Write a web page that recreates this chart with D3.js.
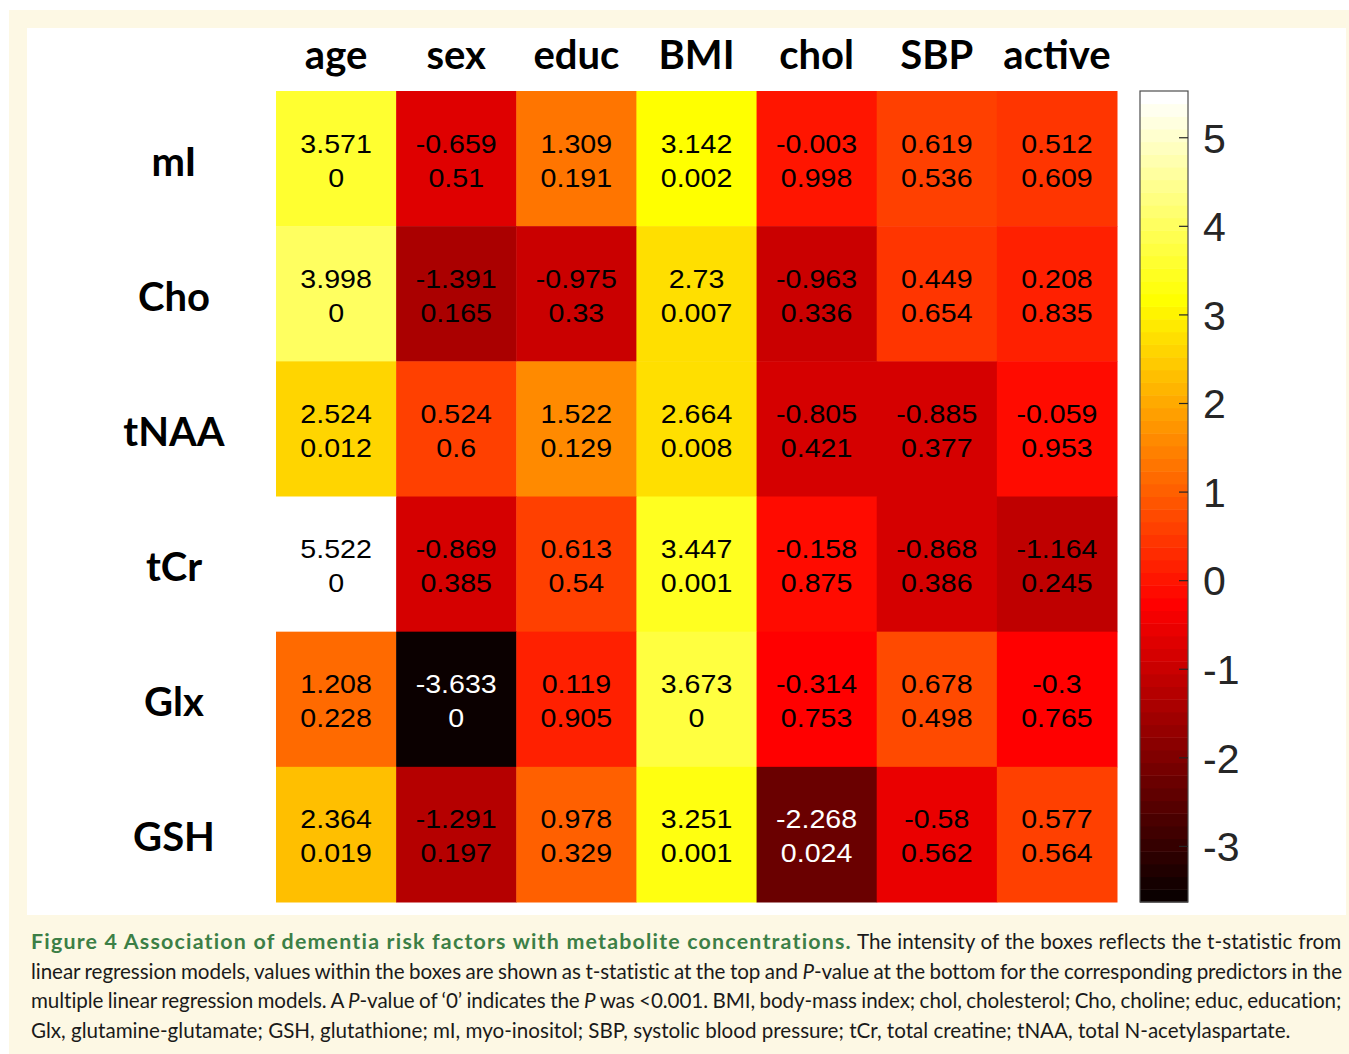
<!DOCTYPE html>
<html>
<head>
    <meta charset="utf-8">
    <title>Figure 4 heatmap</title>
    <script src="https://d3js.org/d3.v7.min.js"></script>
    <style>
        body {
            margin: 0;
            background: white;
        }
        svg {
            display: block;
        }
        .collabel, .rowlabel {
            font-family: Lato, 'Open Sans', sans-serif;
            font-weight: 700;
            font-size: 40px;
        }
        .cell-text {
            font-family: 'Liberation Sans', Arial, sans-serif;
            font-size: 26px;
        }
        .cbar text {
            font-family: 'Liberation Sans', Arial, sans-serif;
            font-size: 41px;
            fill: #262626;
        }
        .caption {
            font-family: Lato, sans-serif;
            font-size: 20.6px;
            fill: #1a1a1a;
        }
    </style>
</head>
<body>
<svg width="1349" height="1054"></svg>

<script>
    // predictors (columns) and metabolites (rows)
    let predictors = ["age", "sex", "educ", "BMI", "chol", "SBP", "active"]
    let metabolites = ["mI", "Cho", "tNAA", "tCr", "Glx", "GSH"]

    // t-statistic, one array per metabolite
    let tMI   = [3.571, -0.659, 1.309, 3.142, -0.003, 0.619, 0.512]
    let tCho  = [3.998, -1.391, -0.975, 2.73, -0.963, 0.449, 0.208]
    let tNAA  = [2.524, 0.524, 1.522, 2.664, -0.805, -0.885, -0.059]
    let tCr   = [5.522, -0.869, 0.613, 3.447, -0.158, -0.868, -1.164]
    let tGlx  = [1.208, -3.633, 0.119, 3.673, -0.314, 0.678, -0.3]
    let tGSH  = [2.364, -1.291, 0.978, 3.251, -2.268, -0.58, 0.577]

    // P-values, same layout
    let pMI   = [0, 0.51, 0.191, 0.002, 0.998, 0.536, 0.609]
    let pCho  = [0, 0.165, 0.33, 0.007, 0.336, 0.654, 0.835]
    let pNAA  = [0.012, 0.6, 0.129, 0.008, 0.421, 0.377, 0.953]
    let pCr   = [0, 0.385, 0.54, 0.001, 0.875, 0.386, 0.245]
    let pGlx  = [0.228, 0, 0.905, 0, 0.753, 0.498, 0.765]
    let pGSH  = [0.019, 0.197, 0.329, 0.001, 0.024, 0.562, 0.564]

    let cbarTicks = [-3, -2, -1, 0, 1, 2, 3, 4, 5]

    let tRows = [tMI, tCho, tNAA, tCr, tGlx, tGSH]
    let pRows = [pMI, pCho, pNAA, pCr, pGlx, pGSH]

    // matlab "hot" colormap, 64 entries
    function hot(m) {
        let n = Math.floor(3 / 8 * m)
        let out = []
        for (let i = 1; i <= m; i++) {
            let r = i <= n ? i / n : 1
            let g = i <= n ? 0 : (i <= 2 * n ? (i - n) / n : 1)
            let b = i <= 2 * n ? 0 : (i - 2 * n) / (m - 2 * n)
            out.push(d3.rgb(r * 255, g * 255, b * 255))
        }
        return out
    }
    let hotColors = hot(64)

    let cells = []
    metabolites.forEach((met, i) => {
        predictors.forEach((pred, j) => {
            cells.push({ met: met, pred: pred, t: tRows[i][j], p: pRows[i][j] })
        })
    })

    let tMin = d3.min(cells, d => d.t)
    let tMax = d3.max(cells, d => d.t)

    let svg = d3.select("svg")

    // page background / panel
    svg.append("rect").attr("x", 9).attr("y", 10).attr("width", 1340).attr("height", 1044)
        .attr("fill", "#fdf8e4")
    svg.append("rect").attr("x", 27).attr("y", 28).attr("width", 1319).attr("height", 887)
        .attr("fill", "white")

    let x = d3.scaleBand().domain(predictors).range([276, 1117])
    let y = d3.scaleBand().domain(metabolites).range([91, 902])
    let color = d3.scaleQuantize().domain([tMin, tMax]).range(hotColors)

    let cellG = svg.append("g")
        .selectAll("g")
        .data(cells)
        .join("g")
        .attr("transform", d => `translate(${x(d.pred)},${y(d.met)})`)

    cellG.append("rect")
        .attr("width", x.bandwidth() + 0.5)
        .attr("height", y.bandwidth() + 0.5)
        .attr("fill", d => color(d.t))

    let textFill = d => color(d.t).r < 128 ? "white" : "black"

    cellG.append("text")
        .attr("class", "cell-text")
        .attr("text-anchor", "middle")
        .attr("transform", `translate(${x.bandwidth() / 2},${y.bandwidth() / 2 - 6}) scale(1.1,1)`)
        .attr("fill", textFill)
        .text(d => String(d.t))

    cellG.append("text")
        .attr("class", "cell-text")
        .attr("text-anchor", "middle")
        .attr("transform", `translate(${x.bandwidth() / 2},${y.bandwidth() / 2 + 28}) scale(1.1,1)`)
        .attr("fill", textFill)
        .text(d => String(d.p))

    // column + row labels
    svg.append("g")
        .selectAll("text")
        .data(predictors)
        .join("text")
        .attr("class", "collabel")
        .attr("text-anchor", "middle")
        .attr("x", d => x(d) + x.bandwidth() / 2)
        .attr("y", 69)
        .text(d => d)

    svg.append("g")
        .selectAll("text")
        .data(metabolites)
        .join("text")
        .attr("class", "rowlabel")
        .attr("text-anchor", "middle")
        .attr("x", 174)
        .attr("y", d => y(d) + y.bandwidth() / 2 + 17)
        .text(d => d)

    // colorbar
    let cbX = 1140, cbW = 48
    let cbY = d3.scaleLinear().domain([tMin, tMax]).range([902, 91])
    let bandH = (cbY(tMin) - cbY(tMax)) / hotColors.length

    let cbar = svg.append("g").attr("class", "cbar")
    cbar.selectAll("rect.band")
        .data(hotColors)
        .join("rect")
        .attr("class", "band")
        .attr("x", cbX)
        .attr("width", cbW)
        .attr("y", (c, i) => cbY(tMin) - (i + 1) * bandH)
        .attr("height", bandH + 0.5)
        .attr("fill", c => c)

    cbar.append("rect")
        .attr("x", cbX).attr("y", cbY(tMax))
        .attr("width", cbW).attr("height", cbY(tMin) - cbY(tMax))
        .attr("fill", "none")
        .attr("stroke", "#4d4d4d")
        .attr("stroke-width", 1.2)

    let cbAxis = d3.axisRight(cbY)
        .tickValues(cbarTicks)
        .tickSize(-9)
        .tickPadding(15)
        .tickFormat(d => String(d))

    cbar.append("g")
        .attr("transform", `translate(${cbX + cbW},0)`)
        .call(cbAxis)
        .call(g => g.select(".domain").remove())
        .call(g => g.selectAll(".tick line").attr("stroke", "#262626").attr("stroke-width", 1.2))
        .call(g => g.selectAll(".tick text").attr("font-size", null).attr("font-family", null)
            .attr("dy", "0.36em").attr("fill", "#262626"))

    // caption, justified line by line
    let green = "#3c7f46"
    let captionLines = [
        [{ t: "Figure 4 Association of dementia risk factors with metabolite concentrations.", b: true },
         { t: " The intensity of the boxes reflects the t-statistic from" }],
        [{ t: "linear regression models, values within the boxes are shown as t-statistic at the top and " },
         { t: "P", i: true }, { t: "-value at the bottom for the corresponding predictors in the" }],
        [{ t: "multiple linear regression models. A " }, { t: "P", i: true },
         { t: "-value of \u20180\u2019 indicates the " }, { t: "P", i: true },
         { t: " was <0.001. BMI, body-mass index; chol, cholesterol; Cho, choline; educ, education;" }],
        [{ t: "Glx, glutamine-glutamate; GSH, glutathione; mI, myo-inositol; SBP, systolic blood pressure; tCr, total creatine; tNAA, total N-acetylaspartate." }]
    ]

    let capLeft = 31, capRight = 1342, boldWidth = 822
    captionLines.forEach((line, k) => {
        let txt = svg.append("text")
            .attr("class", "caption")
            .attr("x", capLeft)
            .attr("y", 949 + k * 29.5)
        line.forEach(part => {
            let ts = txt.append("tspan").text(part.t)
            if (part.b) {
                ts.attr("font-weight", 700).attr("fill", green).style("font-size", "21.4px")
                // gill sans bold runs wider than lato, spread the letters
                let w = ts.node().getComputedTextLength()
                ts.style("letter-spacing", ((boldWidth - w) / part.t.length) + "px")
            }
            if (part.i) ts.attr("font-style", "italic")
        })
        if (k < captionLines.length - 1) {
            let natural = txt.node().getComputedTextLength()
            let rest = line.filter(p => !p.b).map(p => p.t).join("")
            let spaces = rest.split(" ").length - 1
            let diff = capRight - capLeft - natural
            // split the slack between letters and words
            let ls = 0.4 * diff / rest.length
            let ws = 0.6 * diff / spaces
            txt.selectAll("tspan").each(function (p, idx) {
                if (!line[idx].b) {
                    d3.select(this).style("letter-spacing", ls + "px").style("word-spacing", ws + "px")
                }
            })
        }
    })
</script>
</body>
</html>
